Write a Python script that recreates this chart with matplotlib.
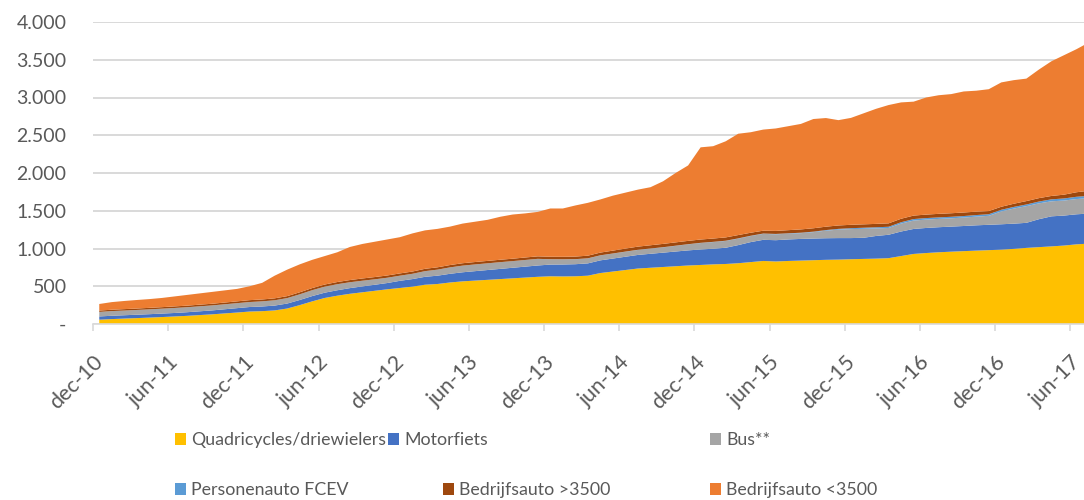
import numpy as np
import matplotlib.pyplot as plt
import matplotlib.transforms as mtransforms
from matplotlib.patches import Patch

# %% data (monthly, dec-10 .. jul-17)
quadricycles = [57, 65, 72, 78, 85, 92, 100, 108, 118, 128, 140, 152,
                165, 170, 180, 205, 250, 300, 345, 375, 400, 420, 440, 460,
                477, 495, 520, 530, 550, 565, 575, 585, 595, 605, 615, 625,
                632, 630, 632, 640, 675, 695, 715, 735, 745, 755, 765, 775,
                782, 790, 795, 805, 820, 835, 828, 835, 840, 845, 850, 853,
                858, 862, 866, 872, 900, 928, 940, 950, 958, 965, 972, 978,
                985, 995, 1008, 1018, 1028, 1039, 1055, 1065]
motorfiets = [43, 44, 44, 45, 45, 46, 46, 48, 50, 52, 55, 58,
              60, 62, 64, 66, 68, 70, 70, 72, 75, 78, 80, 83,
              95, 100, 105, 110, 115, 120, 125, 130, 135, 140, 145, 150,
              155, 158, 160, 163, 168, 172, 176, 180, 185, 190, 195, 200,
              205, 207, 215, 240, 265, 280, 282, 285, 287, 287, 286, 285,
              280, 280, 300, 310, 325, 331, 332, 332, 332, 333, 335, 336,
              336, 334, 332, 370, 398, 397, 398, 398]
bus = [60, 62, 62, 63, 64, 65, 66, 66, 66, 66, 66, 66,
       66, 68, 70, 72, 75, 78, 80, 80, 78, 75, 72, 70,
       68, 70, 75, 80, 85, 88, 89, 89, 89, 88, 88, 88,
       70, 68, 66, 66, 66, 66, 66, 66, 68, 70, 75, 80,
       85, 88, 90, 85, 80, 79, 78, 76, 76, 85, 100, 112,
       119, 119, 100, 90, 105, 111, 111, 110, 110, 112, 115, 119,
       170, 200, 221, 210, 199, 199, 202, 204]
fcev = [0] * 36 + [1, 1, 1, 1, 1, 1, 2, 2, 2, 2, 2, 2,
                   3, 3, 3, 4, 4, 4, 5, 5, 6, 6, 8, 10,
                   12, 14, 15, 16, 18, 20, 20, 20, 20, 20, 21, 21,
                   22, 22, 22, 24, 26, 28, 30, 31]
bedrijf_zwaar = [18, 18, 19, 19, 20, 20, 21, 21, 22, 22, 23, 24,
                 25, 25, 26, 26, 27, 28, 28, 29, 29, 30, 30, 30,
                 30, 30, 31, 31, 31, 32, 32, 32, 32, 32, 33, 33,
                 33, 33, 34, 35, 36, 38, 40, 42, 43, 44, 44, 44,
                 44, 44, 44, 44, 40, 38, 40, 42, 44, 45, 45, 45,
                 45, 45, 45, 45, 46, 46, 46, 47, 47, 47, 45, 42,
                 40, 42, 45, 45, 45, 50, 60, 67]
bedrijf_licht = [87, 101, 108, 113, 116, 122, 132, 142, 149, 157, 161, 165,
                 184, 220, 300, 351, 370, 374, 377, 394, 438, 457, 468, 477,
                 480, 505, 509, 509, 509, 525, 534, 544, 569, 585, 584, 589,
                 639, 640, 677, 700, 704, 728, 741, 755, 769, 829, 919, 999,
                 1221, 1223, 1273, 1342, 1331, 1339, 1357, 1377, 1397, 1447, 1439, 1395,
                 1416, 1470, 1524, 1567, 1541, 1509, 1551, 1571, 1578, 1603, 1602, 1614,
                 1647, 1637, 1622, 1703, 1784, 1847, 1895, 1965]

labels = ["Quadricycles/driewielers", "Motorfiets", "Bus**",
          "Personenauto FCEV", "Bedrijfsauto >3500", "Bedrijfsauto <3500"]
colors = ["#FFC000", "#4472C4", "#A5A5A5", "#5B9BD5", "#9E480E", "#ED7D31"]

xtick_labels = ["dec-10", "jun-11", "dec-11", "jun-12", "dec-12", "jun-13", "dec-13",
                "jun-14", "dec-14", "jun-15", "dec-15", "jun-16", "dec-16", "jun-17"]
ytick_values = [0, 500, 1000, 1500, 2000, 2500, 3000, 3500, 4000]
ytick_labels = ["-", "500", "1.000", "1.500", "2.000", "2.500", "3.000", "3.500", "4.000"]

plt.rcParams['font.family'] = ['Lato', 'DejaVu Sans']
txt_color = "#595959"
grid_color = "#D9D9D9"

# %% plot
fig = plt.figure(figsize=(10.84, 5.0), dpi=100)
ax = fig.add_axes([93 / 1084, 1 - 324 / 500, 1 - 93 / 1084, (324 - 22) / 500])

x = np.arange(len(quadricycles))
ax.stackplot(x, quadricycles, motorfiets, bus, fcev, bedrijf_zwaar, bedrijf_licht,
             colors=colors, labels=labels, linewidth=0)

ax.set_xlim(-0.5, 78.6)
ax.set_ylim(0, 4000)
ax.set_yticks(ytick_values)
ax.set_yticklabels(ytick_labels)
ax.set_xticks(np.arange(len(xtick_labels)) * 6 - 0.5)
ax.set_xticklabels(xtick_labels, rotation=45, ha='right', va='top', rotation_mode='anchor')

# shift the rotated labels a little to the right, like Excel does
shift = mtransforms.ScaledTranslation(8 / 100, 0, fig.dpi_scale_trans)
for lbl in ax.get_xticklabels():
    lbl.set_transform(lbl.get_transform() + shift)

ax.grid(axis='y', color=grid_color, linewidth=1.4)
ax.set_axisbelow(True)
for s in ['top', 'right', 'left']:
    ax.spines[s].set_visible(False)
ax.spines['bottom'].set_color(grid_color)
ax.spines['bottom'].set_linewidth(1.2)
ax.tick_params(axis='y', length=0, pad=19, labelsize=14, labelcolor=txt_color)
ax.tick_params(axis='x', length=5, width=1.2, color=grid_color, pad=15,
               labelsize=15.5, labelcolor=txt_color)

# legend, Excel style rows
legend_pos = [(175, 440), (388, 440), (710, 440),
              (175, 490), (443, 490), (710, 490)]
for lab, col, (px, py) in zip(labels, colors, legend_pos):
    fig.legend(handles=[Patch(facecolor=col, edgecolor='none')], labels=[lab],
               loc='center left', bbox_to_anchor=(px / 1084, 1 - py / 500),
               frameon=False, labelcolor=txt_color, fontsize=12.8,
               handlelength=0.62, handleheight=0.62, handletextpad=0.3,
               borderpad=0, borderaxespad=0)

fig.savefig("out.png", dpi=100)
